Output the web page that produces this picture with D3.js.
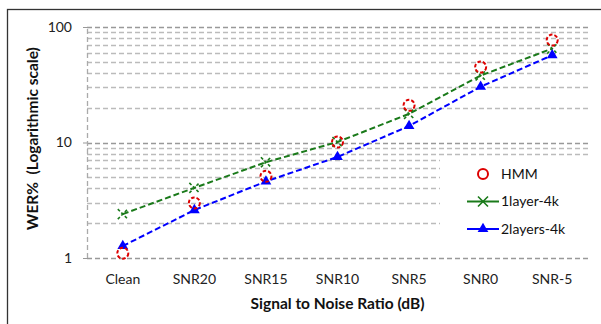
<!DOCTYPE html>
<html>
<head>
<meta charset="utf-8">
<script src="https://cdn.jsdelivr.net/npm/d3@7"></script>
<style>
  body { margin: 0; background: #fff; }
  text { font-family: Lato, "Open Sans", sans-serif; }
</style>
</head>
<body>
<svg width="601" height="324"></svg>
<script>
  // values
  var categories = ["Clean", "SNR20", "SNR15", "SNR10", "SNR5", "SNR0", "SNR-5"];
  var hmm     = [1.1, 3.0, 5.1, 10.1, 21, 45, 77];
  var layer1  = [2.4, 4.05, 6.75, 10.1, 17.7, 38, 65];
  var layers2 = [1.27, 2.6, 4.6, 7.5, 13.9, 30.4, 57];
  var yTicks  = [1, 10, 100];

  var svg = d3.select("svg"),
      margin = {top: 27, right: 13, bottom: 66, left: 87},
      width = +svg.attr("width") - margin.left - margin.right,
      height = +svg.attr("height") - margin.top - margin.bottom;

  // chart border
  svg.append("rect")
    .attr("x", 7.5).attr("y", 9.5)
    .attr("width", 600).attr("height", 320)
    .attr("fill", "none").attr("stroke", "#333").attr("stroke-width", 1.3);

  var g = svg.append("g").attr("transform", "translate(" + margin.left + "," + margin.top + ")");

  var x = d3.scaleBand().domain(categories).range([0, width]).padding(0);
  var y = d3.scaleLog().domain([1, 100]).range([height, 0]);

  // grid lines: every 1..9 per decade
  var grid = [];
  [1, 10].forEach(function(d) {
    for (var k = 1; k <= 9; k++) grid.push(d * k);
  });
  grid.push(100);

  g.append("g").selectAll("line")
    .data(grid)
    .enter().append("line")
      .attr("x1", 0).attr("x2", width)
      .attr("y1", function(d) { return Math.round(y(d)) + 0.5; })
      .attr("y2", function(d) { return Math.round(y(d)) + 0.5; })
      .attr("stroke", function(d) { return yTicks.indexOf(d) > -1 ? "#999" : "#bbb"; })
      .attr("stroke-width", 1.3)
      .attr("stroke-dasharray", "5,3");

  // y axis (dashed gray line, short ticks)
  var yAxis = g.append("g")
    .call(d3.axisLeft(y).tickValues(yTicks).tickFormat(d3.format("d")).tickSize(4).tickPadding(11));
  yAxis.select(".domain")
    .attr("stroke", "#aaa").attr("stroke-width", 1.3).attr("stroke-dasharray", "5,3")
    .attr("d", "M0.5," + height + "V0");
  yAxis.selectAll(".tick line").attr("stroke", "#999");
  yAxis.selectAll("text").attr("font-size", 14).attr("fill", "#222")
    .style("font-family", "Lato, sans-serif");

  // x axis labels
  var xAxis = g.append("g")
    .attr("transform", "translate(0," + height + ")")
    .call(d3.axisBottom(x).tickSize(0).tickPadding(16));
  xAxis.select(".domain").remove();
  xAxis.selectAll("text").attr("font-size", 14).attr("fill", "#222")
    .style("font-family", "Lato, sans-serif");

  // axis titles
  g.append("text")
    .attr("x", width / 2).attr("y", height + 51)
    .attr("text-anchor", "middle")
    .attr("font-size", 15.5).attr("font-weight", "bold").attr("fill", "#111")
    .text("Signal to Noise Ratio (dB)");

  g.append("text")
    .attr("transform", "translate(" + (-49) + "," + (height / 2 - 4) + ") rotate(-90)")
    .attr("text-anchor", "middle")
    .attr("font-size", 15.5).attr("font-weight", "bold").attr("fill", "#111")
    .style("white-space", "pre")
    .text("WER%  (Logarithmic scale)");

  var cx = function(i) { return x(categories[i]) + x.bandwidth() / 2; };
  var line = d3.line()
    .x(function(d, i) { return cx(i); })
    .y(function(d) { return y(d); });

  // 1layer-4k (green, x markers)
  g.append("path").datum(layer1)
    .attr("d", line).attr("fill", "none")
    .attr("stroke", "#1a7a1a").attr("stroke-width", 2).attr("stroke-dasharray", "6,3");

  // 2layers-4k (blue, triangles)
  g.append("path").datum(layers2)
    .attr("d", line).attr("fill", "none")
    .attr("stroke", "#0000ff").attr("stroke-width", 2).attr("stroke-dasharray", "6,3");

  var tri = d3.symbol().type(d3.symbolTriangle).size(50);
  var cross = "M-5,-5L5,5M-5,5L5,-5";

  g.append("g").selectAll("path")
    .data(layer1).enter().append("path")
      .attr("transform", function(d, i) { return "translate(" + cx(i) + "," + y(d) + ")"; })
      .attr("d", cross).attr("stroke", "#1a7a1a").attr("stroke-width", 1.6)
      .attr("stroke-dasharray", "3,2").attr("fill", "none");

  g.append("g").selectAll("path")
    .data(layers2).enter().append("path")
      .attr("transform", function(d, i) { return "translate(" + cx(i) + "," + y(d) + ")"; })
      .attr("d", tri).attr("fill", "#0000ff");

  // HMM (red dashed circles, no line)
  g.append("g").selectAll("circle")
    .data(hmm).enter().append("circle")
      .attr("cx", function(d, i) { return cx(i); })
      .attr("cy", function(d) { return y(d); })
      .attr("r", 5.5)
      .attr("fill", "none").attr("stroke", "#dd0000").attr("stroke-width", 2)
      .attr("stroke-dasharray", "3.5,2");

  // legend
  var legend = svg.append("g");
  legend.append("rect")
    .attr("x", 440).attr("y", 157).attr("width", 152).attr("height", 92)
    .attr("fill", "#fff");

  var items = [
    {name: "HMM", color: "#dd0000", type: "circle"},
    {name: "1layer-4k", color: "#1a7a1a", type: "cross"},
    {name: "2layers-4k", color: "#0000ff", type: "tri"}
  ];
  var li = legend.selectAll("g.item")
    .data(items).enter().append("g")
      .attr("class", "item")
      .attr("transform", function(d, i) { return "translate(483," + (174 + i * 27.5) + ")"; });

  li.filter(function(d) { return d.type !== "circle"; })
    .append("line")
      .attr("x1", -16).attr("x2", 16)
      .attr("stroke", function(d) { return d.color; }).attr("stroke-width", 2);

  li.each(function(d) {
    var s = d3.select(this);
    if (d.type === "circle") {
      s.append("circle").attr("r", 5).attr("fill", "none")
        .attr("stroke", d.color).attr("stroke-width", 2);
    } else if (d.type === "cross") {
      s.append("path").attr("d", cross).attr("stroke", d.color).attr("stroke-width", 1.6);
    } else {
      s.append("path").attr("d", tri).attr("fill", d.color);
    }
  });

  li.append("text")
    .attr("x", 18)
    .attr("dy", "0.35em")
    .attr("font-size", 14).attr("fill", "#111")
    .text(function(d) { return d.name; });
</script>
</body>
</html>
